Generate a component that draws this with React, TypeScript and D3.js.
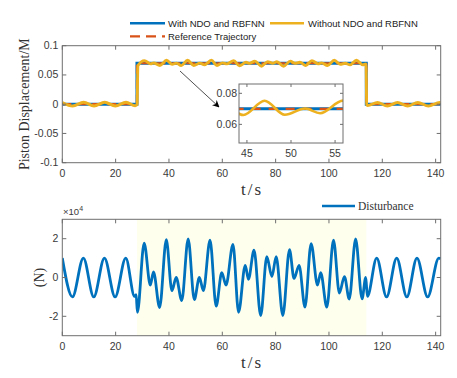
import React from "react";
import * as d3 from "d3";

// ---------- data ----------
const xTicks = [0, 20, 40, 60, 80, 100, 120, 140];
const topYTicks = [-0.1, -0.05, 0, 0.05, 0.1];
const topYTickLabels = ["-0.1", "-0.05", "0", "0.05", "0.1"];
const botYTicks = [-2, 0, 2];
const insetXTicks = [45, 50, 55];
const insetYTicks = [0.06, 0.08];
const insetYTickLabels = ["0.06", "0.08"];

// reference trajectory (step-after points)
const refT = [0, 28, 114, 141.9];
const refY = [0, 0.07, 0, 0];

// "Without NDO and RBFNN" response key points
const noNdoT = [
  0, 3.9, 8.0, 11.9, 15.9, 19.9, 23.9, 27.3, 27.9, 28.05, 28.35, 30.8, 33.1, 34.3, 36.6, 39.1,
  41.2, 42.8, 44.6, 47.0, 49.3, 51.6, 53.3, 55.9, 58.0, 60.1, 61.7, 64.3, 66.4, 68.9, 70.1,
  72.2, 74.7, 77.0, 78.9, 80.5, 83.0, 85.5, 87.2, 89.1, 91.3, 93.6, 96.0, 97.2, 99.5, 102.0,
  104.2, 106.1, 107.9, 110.3, 112.7, 113.9, 114.15, 114.5, 118.2, 121.9, 125.7, 129.5, 133.3,
  137.3, 141.5, 141.9,
];
const noNdoY = [
  0.003, -0.0032, 0.0034, -0.0032, 0.0034, -0.0032, 0.0034, -0.0026, -0.0014, 0.0, 0.066, 0.0745,
  0.069, 0.0705, 0.0662, 0.0752, 0.068, 0.0702, 0.066, 0.0752, 0.0662, 0.0702, 0.0672, 0.0753,
  0.0662, 0.0707, 0.069, 0.0745, 0.0655, 0.0717, 0.0698, 0.0737, 0.065, 0.0728, 0.0701, 0.0728,
  0.065, 0.0737, 0.0699, 0.0717, 0.0662, 0.0745, 0.069, 0.0707, 0.0662, 0.075, 0.068, 0.0701,
  0.0672, 0.0752, 0.0672, 0.069, 0.0, -0.0025, 0.003, -0.003, 0.003, -0.003, 0.003, -0.003,
  0.003, 0.0028,
];

// disturbance key points (x 1e4 N)
const distT = [
  0, 3.8, 7.9, 11.8, 15.8, 19.8, 23.8, 27.1, 27.7, 28.15, 30.7, 33.0, 34.2, 36.5, 39.0, 41.1,
  42.7, 44.8, 47.2, 49.5, 51.4, 52.9, 55.4, 57.7, 59.8, 61.4, 64.0, 66.1, 68.6, 69.8, 71.9, 74.4,
  76.7, 78.6, 80.2, 82.7, 85.2, 86.9, 88.8, 91.0, 93.3, 95.7, 96.9, 99.2, 101.7, 103.9, 105.8,
  107.6, 110.0, 112.4, 113.8, 114.4, 117.9, 121.6, 125.4, 129.2, 133.0, 137.0, 141.2, 141.9,
];
const distV = [
  1.0, -1.0, 1.0, -1.0, 1.0, -1.0, 1.0, -0.97, -0.88, -1.8, 1.77, -0.39, 0.29, -1.55, 1.95, -0.68,
  0.0, -1.19, 1.99, -1.14, 0.0, -0.68, 1.92, -1.48, 0.25, -0.39, 1.7, -1.79, 0.63, -0.09, 1.41,
  -1.96, 1.07, 0.05, 1.07, -1.96, 1.44, -0.05, 0.63, -1.53, 1.75, -0.39, 0.25, -1.53, 1.92, -0.8,
  0.05, -1.11, 1.99, -1.1, 0.0, -0.97, 1.0, -1.0, 1.0, -1.0, 1.0, -1.0, 1.0, 0.97,
];
const shadeRange = [28, 114];

// ---------- layout ----------
const W = 457, H = 378;
const L = 62.3, R = 440.7;
const topT = 45.7, topB = 162.7;
const botT = 219.3, botB = 335.7;
const inL = 239, inR = 343, inT = 84, inB = 143;

const BLUE = "#0072BD", RED = "#D95319", YEL = "#EDB120";
const AX = "#6e6e6e", TXT = "#3a3a3a";
const SANS = "Liberation Sans, Arial, sans-serif";
const SERIF = "Liberation Serif, Times New Roman, serif";

export default function App() {
  const x = d3.scaleLinear().domain([0, 141.9]).range([L, R]);
  const yTop = d3.scaleLinear().domain([-0.1, 0.1]).range([topB, topT]);
  const yBot = d3.scaleLinear().domain([-3, 3]).range([botB, botT]);
  const xIn = d3.scaleLinear().domain([44.1, 55.9]).range([inL, inR]);
  const yIn = d3.scaleLinear().domain([0.048, 0.086]).range([inB, inT]);

  const refPts = refT.map((t, i) => [t, refY[i]] as [number, number]);
  const noPts = noNdoT.map((t, i) => [t, noNdoY[i]] as [number, number]);
  const distPts = distT.map((t, i) => [t, distV[i]] as [number, number]);

  const stepLine = (sx: any, sy: any) =>
    d3.line<[number, number]>().x((d) => sx(d[0])).y((d) => sy(d[1])).curve(d3.curveStepAfter);
  const smoothLine = (sx: any, sy: any) =>
    d3.line<[number, number]>().x((d) => sx(d[0])).y((d) => sy(d[1])).curve(d3.curveMonotoneX);

  const refTop = stepLine(x, yTop)(refPts) || "";
  const noTop = smoothLine(x, yTop)(noPts) || "";
  const refIn = stepLine(xIn, yIn)(refPts) || "";
  const noIn = smoothLine(xIn, yIn)(noPts) || "";
  const distPath = smoothLine(x, yBot)(distPts) || "";

  const tick = 4;

  const frame = (t: number, b: number, yScale: any, yt: number[], ylabels: string[]) => (
    <g>
      <rect x={L} y={t} width={R - L} height={b - t} fill="none" stroke={AX} strokeWidth={1} />
      {xTicks.map((v) => (
        <g key={"x" + v}>
          <line x1={x(v)} x2={x(v)} y1={b} y2={b - tick} stroke={AX} />
          <line x1={x(v)} x2={x(v)} y1={t} y2={t + tick} stroke={AX} />
          <text x={x(v)} y={b + 14} textAnchor="middle" fontSize={10.5} fontFamily={SANS} fill={TXT}>
            {v}
          </text>
        </g>
      ))}
      {yt.map((v, i) => (
        <g key={"y" + v}>
          <line x1={L} x2={L + tick} y1={yScale(v)} y2={yScale(v)} stroke={AX} />
          <line x1={R} x2={R - tick} y1={yScale(v)} y2={yScale(v)} stroke={AX} />
          <text x={L - 4} y={yScale(v) + 3.5} textAnchor="end" fontSize={10.5} fontFamily={SANS} fill={TXT}>
            {ylabels[i]}
          </text>
        </g>
      ))}
    </g>
  );

  return (
    <svg width={W} height={H} style={{ position: "absolute", left: 0, top: 0, background: "#fff" }}>
      <defs>
        <clipPath id="clipTop">
          <rect x={L} y={topT} width={R - L} height={topB - topT} />
        </clipPath>
        <clipPath id="clipBot">
          <rect x={L} y={botT} width={R - L} height={botB - botT} />
        </clipPath>
        <clipPath id="clipIn">
          <rect x={inL} y={inT} width={inR - inL} height={inB - inT} />
        </clipPath>
        <marker id="arrowHead" viewBox="0 0 10 10" refX="9" refY="5" markerWidth="9" markerHeight="9" orient="auto">
          <path d="M0,0 L10,5 L0,10 L3,5 Z" fill="#000" />
        </marker>
      </defs>
      <rect x={0} y={0} width={W} height={H} fill="#fff" />

      {/* ---------- TOP PLOT ---------- */}
      <g clipPath="url(#clipTop)">
        <path d={refTop} fill="none" stroke={BLUE} strokeWidth={3} />
        <path d={refTop} fill="none" stroke={RED} strokeWidth={2.2} strokeDasharray="9,6" />
        <path d={noTop} fill="none" stroke={YEL} strokeWidth={2.9} strokeLinejoin="round" />
      </g>
      {frame(topT, topB, yTop, topYTicks, topYTickLabels)}

      {/* arrow */}
      <line x1={180} y1={71} x2={219} y2={107} stroke="#222" strokeWidth={0.8} markerEnd="url(#arrowHead)" />

      {/* inset */}
      <rect x={inL} y={inT} width={inR - inL} height={inB - inT} fill="#fff" />
      <g clipPath="url(#clipIn)">
        <path d={refIn} fill="none" stroke={BLUE} strokeWidth={3} />
        <path d={refIn} fill="none" stroke={RED} strokeWidth={2.4} strokeDasharray="9,8" />
        <path d={noIn} fill="none" stroke={YEL} strokeWidth={2.6} />
      </g>
      <rect x={inL} y={inT} width={inR - inL} height={inB - inT} fill="none" stroke={AX} />
      {insetXTicks.map((v) => (
        <g key={"ix" + v}>
          <line x1={xIn(v)} x2={xIn(v)} y1={inB} y2={inB - 3} stroke={AX} />
          <line x1={xIn(v)} x2={xIn(v)} y1={inT} y2={inT + 3} stroke={AX} />
          <text x={xIn(v)} y={inB + 14} textAnchor="middle" fontSize={10.5} fontFamily={SANS} fill={TXT}>
            {v}
          </text>
        </g>
      ))}
      {insetYTicks.map((v, i) => (
        <g key={"iy" + v}>
          <line x1={inL} x2={inL + 3} y1={yIn(v)} y2={yIn(v)} stroke={AX} />
          <line x1={inR} x2={inR - 3} y1={yIn(v)} y2={yIn(v)} stroke={AX} />
          <text x={inL - 2} y={yIn(v) + 3.5} textAnchor="end" fontSize={10.5} fontFamily={SANS} fill={TXT}>
            {insetYTickLabels[i]}
          </text>
        </g>
      ))}

      {/* top legend */}
      <g fontFamily={SANS} fontSize={9.5} fill="#222">
        <line x1={130} x2={165} y1={23.3} y2={23.3} stroke={BLUE} strokeWidth={2.6} />
        <text x={168} y={26.6}>With NDO and RBFNN</text>
        <line x1={270} x2={304} y1={23.3} y2={23.3} stroke={YEL} strokeWidth={2.6} />
        <text x={308} y={26.6}>Without NDO and RBFNN</text>
        <line x1={130} x2={165} y1={36.3} y2={36.3} stroke={RED} strokeWidth={2.2} strokeDasharray="10,6" />
        <text x={168} y={39.6}>Reference Trajectory</text>
      </g>

      {/* top axis labels */}
      <text
        transform={`translate(29,${(topT + topB) / 2}) rotate(-90)`}
        textAnchor="middle"
        fontFamily={SERIF}
        fontSize={14}
        fill="#333"
      >
        Piston Displacement/M
      </text>
      <text x={252} y={195} textAnchor="middle" fontFamily={SERIF} fontSize={17} letterSpacing={2} fill="#333">
        t/s
      </text>

      {/* ---------- BOTTOM PLOT ---------- */}
      <rect
        x={x(shadeRange[0])}
        y={botT}
        width={x(shadeRange[1]) - x(shadeRange[0])}
        height={botB - botT}
        fill="#FFFFEE"
      />
      <g clipPath="url(#clipBot)">
        <path d={distPath} fill="none" stroke={BLUE} strokeWidth={2.8} strokeLinejoin="round" />
      </g>
      {frame(botT, botB, yBot, botYTicks, botYTicks.map(String))}
      <text x={63} y={215} fontFamily={SANS} fontSize={9.5} fill={TXT}>
        ×10
        <tspan dy={-4} fontSize={7}>
          4
        </tspan>
      </text>

      {/* bottom legend */}
      <line x1={322} x2={355} y1={206} y2={206} stroke={BLUE} strokeWidth={2.6} />
      <text x={358} y={209.5} fontFamily={SERIF} fontSize={11.5} fill="#333">
        Disturbance
      </text>

      <text
        transform={`translate(44,${(botT + botB) / 2}) rotate(-90)`}
        textAnchor="middle"
        fontFamily={SERIF}
        fontSize={14}
        fill="#333"
      >
        (N)
      </text>
      <text x={252} y={368} textAnchor="middle" fontFamily={SERIF} fontSize={17} letterSpacing={2} fill="#333">
        t/s
      </text>
    </svg>
  );
}
